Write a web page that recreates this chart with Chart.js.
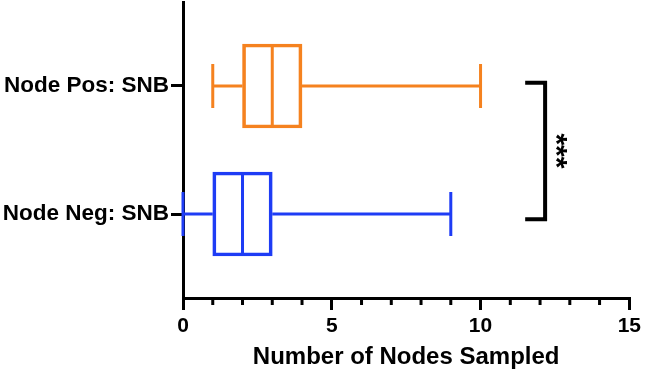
<!DOCTYPE html>
<html>
<head>
<meta charset="utf-8">
<script src="https://cdn.jsdelivr.net/npm/chart.js@4/dist/chart.umd.min.js"></script>
<style>
  html, body { margin: 0; padding: 0; background: #fff; }
  #wrap { width: 645px; height: 382px; }
</style>
</head>
<body>
<div id="wrap"><canvas id="c"></canvas></div>
<script>
// ---- data ----
const categories = ['Node Pos: SNB', 'Node Neg: SNB'];
const catPos = [1, 0];                 // position of each group on the value axis
const mins    = [1, 0];
const q1s     = [2, 1];
const medians = [3, 2];
const q3s     = [4, 3];
const maxs    = [10, 9];
const colors  = ['#F5821F', '#1E3CF5'];
const xTicks  = [0, 5, 10, 15];
const xMinorStep = 1;
const xTitle = 'Number of Nodes Sampled';
// significance bracket
const sigX = [11.5, 12.17];
const sigY = [1.025, -0.04];
const sigLabel = '***';

const FONT = '"Liberation Sans", Arial, Helvetica, sans-serif';

const boxPlugin = {
  id: 'boxExtras',
  afterDatasetsDraw(chart) {
    const ctx = chart.ctx;
    const xs = chart.scales.x, ys = chart.scales.y;
    const half = 42;
    const capHalf = 22;
    ctx.save();
    ctx.lineWidth = 3;
    ctx.lineCap = 'butt';
    for (let i = 0; i < categories.length; i++) {
      const y = ys.getPixelForValue(catPos[i]);
      const pMin = xs.getPixelForValue(mins[i]);
      const pQ1 = xs.getPixelForValue(q1s[i]);
      const pMed = xs.getPixelForValue(medians[i]);
      const pQ3 = xs.getPixelForValue(q3s[i]);
      const pMax = xs.getPixelForValue(maxs[i]);
      ctx.strokeStyle = colors[i];
      ctx.beginPath();
      ctx.moveTo(pMin, y); ctx.lineTo(pQ1, y);
      ctx.moveTo(pQ3, y); ctx.lineTo(pMax, y);
      ctx.moveTo(pMin, y - capHalf); ctx.lineTo(pMin, y + capHalf);
      ctx.moveTo(pMax, y - capHalf); ctx.lineTo(pMax, y + capHalf);
      ctx.moveTo(pMed, y - half); ctx.lineTo(pMed, y + half);
      ctx.stroke();
    }
    // minor ticks
    ctx.strokeStyle = '#000';
    ctx.lineWidth = 3;
    const yb = chart.chartArea.bottom;
    ctx.beginPath();
    for (let v = xs.min; v <= xs.max; v += xMinorStep) {
      if (xTicks.includes(v)) continue;
      const px = xs.getPixelForValue(v);
      ctx.moveTo(px, yb); ctx.lineTo(px, yb + 7);
    }
    ctx.stroke();
    // significance bracket
    const bx0 = xs.getPixelForValue(sigX[0]);
    const bx1 = xs.getPixelForValue(sigX[1]);
    const by0 = ys.getPixelForValue(sigY[0]);
    const by1 = ys.getPixelForValue(sigY[1]);
    ctx.lineWidth = 4;
    ctx.lineJoin = 'miter';
    ctx.beginPath();
    ctx.moveTo(bx0, by0); ctx.lineTo(bx1, by0); ctx.lineTo(bx1, by1); ctx.lineTo(bx0, by1);
    ctx.stroke();
    ctx.translate(bx1 + 14, (by0 + by1) / 2);
    ctx.rotate(Math.PI / 2);
    ctx.fillStyle = '#000';
    ctx.font = 'bold 30px ' + FONT;
    ctx.textAlign = 'center';
    ctx.textBaseline = 'middle';
    ctx.fillText(sigLabel, 0, 4);
    ctx.restore();
  }
};

new Chart(document.getElementById('c'), {
  type: 'bar',
  data: {
    datasets: [{
      data: categories.map((c, i) => ({ x: [q1s[i], q3s[i]], y: catPos[i] })),
      borderColor: colors,
      backgroundColor: 'rgba(0,0,0,0)',
      borderWidth: 3,
      borderSkipped: false,
      barThickness: 84
    }]
  },
  options: {
    indexAxis: 'y',
    responsive: true,
    maintainAspectRatio: false,
    animation: false,
    layout: { padding: { left: 0, right: 13, top: 2, bottom: 0 } },
    plugins: { legend: { display: false }, tooltip: { enabled: false } },
    scales: {
      x: {
        type: 'linear',
        min: 0, max: 15,
        afterBuildTicks(scale) { scale.ticks = xTicks.map(v => ({ value: v })); },
        afterFit(scale) { scale.height = 84; },
        grid: { drawOnChartArea: false, drawTicks: true, tickLength: 12, color: '#000', lineWidth: 3 },
        border: { display: true, color: '#000', width: 3 },
        ticks: { color: '#000', font: { family: FONT, size: 21, weight: 'bold' }, padding: 4, maxRotation: 0 },
        title: { display: true, text: xTitle, color: '#000', font: { family: FONT, size: 24, weight: 'bold' }, padding: { top: 0, bottom: 10 } }
      },
      y: {
        type: 'linear',
        offset: false,
        min: -0.656, max: 1.656,
        afterBuildTicks(scale) { scale.ticks = catPos.map(v => ({ value: v })); },
        afterFit(scale) { scale.width = 183; scale.paddingTop = 0; scale.paddingBottom = 0; },
        grid: { offset: false, drawOnChartArea: false, drawTicks: true, tickLength: 12, color: '#000', lineWidth: 3 },
        border: { display: true, color: '#000', width: 3 },
        ticks: {
          color: '#000', font: { family: FONT, size: 22.5, weight: 'bold' }, padding: 2,
          callback(v) { const i = catPos.indexOf(v); return i >= 0 ? categories[i] : ''; }
        }
      }
    }
  },
  plugins: [boxPlugin]
});
</script>
</body>
</html>
